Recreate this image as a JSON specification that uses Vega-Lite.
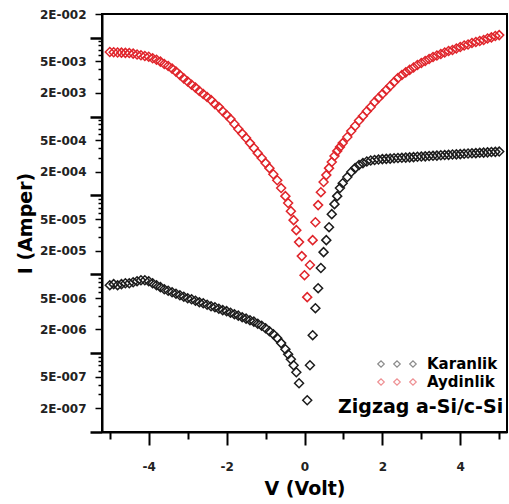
{
 "$schema": "https://vega.github.io/schema/vega-lite/v6.json",
 "width": 405, "height": 418,
 "autosize": {"type": "none"},
 "padding": {"left": 102, "top": 14, "right": 2, "bottom": 72},
 "background": "white",
 "config": {"view": {"stroke": "black", "strokeWidth": 2}, "font": "DejaVu Sans"},
 "data": {"values": [
  {"series":"Aydinlik","V":-5.0,"I":6.59e-3},{"series":"Aydinlik","V":-4.9,"I":6.55e-3},{"series":"Aydinlik","V":-4.8,"I":6.51e-3},{"series":"Aydinlik","V":-4.7,"I":6.47e-3},{"series":"Aydinlik","V":-4.6,"I":6.43e-3},{"series":"Aydinlik","V":-4.5,"I":6.40e-3},{"series":"Aydinlik","V":-4.4,"I":6.29e-3},{"series":"Aydinlik","V":-4.3,"I":6.14e-3},{"series":"Aydinlik","V":-4.2,"I":6.00e-3},{"series":"Aydinlik","V":-4.1,"I":5.86e-3},
  {"series":"Aydinlik","V":-4.0,"I":5.73e-3},{"series":"Aydinlik","V":-3.9,"I":5.50e-3},{"series":"Aydinlik","V":-3.8,"I":5.25e-3},{"series":"Aydinlik","V":-3.7,"I":4.98e-3},{"series":"Aydinlik","V":-3.6,"I":4.64e-3},{"series":"Aydinlik","V":-3.5,"I":4.38e-3},{"series":"Aydinlik","V":-3.4,"I":4.06e-3},{"series":"Aydinlik","V":-3.3,"I":3.72e-3},{"series":"Aydinlik","V":-3.2,"I":3.36e-3},{"series":"Aydinlik","V":-3.1,"I":3.05e-3},
  {"series":"Aydinlik","V":-3.0,"I":2.79e-3},{"series":"Aydinlik","V":-2.9,"I":2.54e-3},{"series":"Aydinlik","V":-2.8,"I":2.33e-3},{"series":"Aydinlik","V":-2.7,"I":2.11e-3},{"series":"Aydinlik","V":-2.6,"I":1.93e-3},{"series":"Aydinlik","V":-2.5,"I":1.77e-3},{"series":"Aydinlik","V":-2.4,"I":1.62e-3},{"series":"Aydinlik","V":-2.3,"I":1.44e-3},{"series":"Aydinlik","V":-2.2,"I":1.32e-3},{"series":"Aydinlik","V":-2.1,"I":1.17e-3},
  {"series":"Aydinlik","V":-2.0,"I":1.05e-3},{"series":"Aydinlik","V":-1.9,"I":9.30e-4},{"series":"Aydinlik","V":-1.8,"I":8.04e-4},{"series":"Aydinlik","V":-1.7,"I":6.95e-4},{"series":"Aydinlik","V":-1.6,"I":6.09e-4},{"series":"Aydinlik","V":-1.5,"I":5.34e-4},{"series":"Aydinlik","V":-1.4,"I":4.61e-4},{"series":"Aydinlik","V":-1.3,"I":3.99e-4},{"series":"Aydinlik","V":-1.2,"I":3.44e-4},{"series":"Aydinlik","V":-1.1,"I":2.98e-4},
  {"series":"Aydinlik","V":-1.0,"I":2.57e-4},{"series":"Aydinlik","V":-0.9,"I":2.22e-4},{"series":"Aydinlik","V":-0.8,"I":1.86e-4},{"series":"Aydinlik","V":-0.7,"I":1.56e-4},{"series":"Aydinlik","V":-0.6,"I":1.24e-4},
  {"series":"Aydinlik","V":-0.49,"I":9.80e-5},{"series":"Aydinlik","V":-0.42,"I":8.00e-5},{"series":"Aydinlik","V":-0.35,"I":6.32e-5},{"series":"Aydinlik","V":-0.28,"I":4.86e-5},{"series":"Aydinlik","V":-0.21,"I":3.63e-5},{"series":"Aydinlik","V":-0.14,"I":2.56e-5},{"series":"Aydinlik","V":-0.07,"I":1.70e-5},{"series":"Aydinlik","V":0.0,"I":9.75e-6},{"series":"Aydinlik","V":0.07,"I":5.13e-6},
  {"series":"Aydinlik","V":0.14,"I":1.31e-5},{"series":"Aydinlik","V":0.21,"I":2.71e-5},{"series":"Aydinlik","V":0.28,"I":4.58e-5},{"series":"Aydinlik","V":0.35,"I":7.54e-5},{"series":"Aydinlik","V":0.42,"I":1.10e-4},{"series":"Aydinlik","V":0.49,"I":1.48e-4},{"series":"Aydinlik","V":0.56,"I":1.81e-4},{"series":"Aydinlik","V":0.63,"I":2.22e-4},{"series":"Aydinlik","V":0.70,"I":2.65e-4},{"series":"Aydinlik","V":0.77,"I":3.16e-4},{"series":"Aydinlik","V":0.84,"I":3.65e-4},{"series":"Aydinlik","V":0.91,"I":4.10e-4},{"series":"Aydinlik","V":0.98,"I":4.61e-4},
  {"series":"Aydinlik","V":1.1,"I":5.50e-4},{"series":"Aydinlik","V":1.2,"I":6.55e-4},{"series":"Aydinlik","V":1.3,"I":7.59e-4},{"series":"Aydinlik","V":1.4,"I":8.90e-4},{"series":"Aydinlik","V":1.5,"I":1.02e-3},{"series":"Aydinlik","V":1.6,"I":1.17e-3},{"series":"Aydinlik","V":1.7,"I":1.32e-3},{"series":"Aydinlik","V":1.8,"I":1.53e-3},{"series":"Aydinlik","V":1.9,"I":1.72e-3},{"series":"Aydinlik","V":2.0,"I":1.93e-3},
  {"series":"Aydinlik","V":2.1,"I":2.17e-3},{"series":"Aydinlik","V":2.2,"I":2.44e-3},{"series":"Aydinlik","V":2.3,"I":2.74e-3},{"series":"Aydinlik","V":2.4,"I":3.08e-3},{"series":"Aydinlik","V":2.5,"I":3.36e-3},{"series":"Aydinlik","V":2.6,"I":3.64e-3},{"series":"Aydinlik","V":2.7,"I":3.91e-3},{"series":"Aydinlik","V":2.8,"I":4.19e-3},{"series":"Aydinlik","V":2.9,"I":4.51e-3},{"series":"Aydinlik","V":3.0,"I":4.78e-3},
  {"series":"Aydinlik","V":3.1,"I":5.06e-3},{"series":"Aydinlik","V":3.2,"I":5.37e-3},{"series":"Aydinlik","V":3.3,"I":5.69e-3},{"series":"Aydinlik","V":3.4,"I":5.95e-3},{"series":"Aydinlik","V":3.5,"I":6.21e-3},{"series":"Aydinlik","V":3.6,"I":6.49e-3},{"series":"Aydinlik","V":3.7,"I":6.78e-3},{"series":"Aydinlik","V":3.8,"I":6.98e-3},{"series":"Aydinlik","V":3.9,"I":7.30e-3},{"series":"Aydinlik","V":4.0,"I":7.62e-3},
  {"series":"Aydinlik","V":4.1,"I":7.96e-3},{"series":"Aydinlik","V":4.2,"I":8.20e-3},{"series":"Aydinlik","V":4.3,"I":8.57e-3},{"series":"Aydinlik","V":4.4,"I":8.82e-3},{"series":"Aydinlik","V":4.5,"I":9.09e-3},{"series":"Aydinlik","V":4.6,"I":9.35e-3},{"series":"Aydinlik","V":4.7,"I":9.77e-3},{"series":"Aydinlik","V":4.8,"I":1.01e-2},{"series":"Aydinlik","V":4.9,"I":1.05e-2},{"series":"Aydinlik","V":5.0,"I":1.08e-2},

  {"series":"Karanlik","V":-5.0,"I":7.28e-6},{"series":"Karanlik","V":-4.9,"I":7.50e-6},{"series":"Karanlik","V":-4.8,"I":7.28e-6},{"series":"Karanlik","V":-4.7,"I":7.50e-6},{"series":"Karanlik","V":-4.6,"I":7.71e-6},{"series":"Karanlik","V":-4.5,"I":7.71e-6},{"series":"Karanlik","V":-4.4,"I":7.94e-6},{"series":"Karanlik","V":-4.3,"I":8.18e-6},{"series":"Karanlik","V":-4.2,"I":8.42e-6},{"series":"Karanlik","V":-4.1,"I":8.42e-6},
  {"series":"Karanlik","V":-4.0,"I":8.18e-6},{"series":"Karanlik","V":-3.9,"I":7.71e-6},{"series":"Karanlik","V":-3.8,"I":7.28e-6},{"series":"Karanlik","V":-3.7,"I":6.87e-6},{"series":"Karanlik","V":-3.6,"I":6.47e-6},{"series":"Karanlik","V":-3.5,"I":6.19e-6},{"series":"Karanlik","V":-3.4,"I":5.93e-6},{"series":"Karanlik","V":-3.3,"I":5.68e-6},{"series":"Karanlik","V":-3.2,"I":5.43e-6},{"series":"Karanlik","V":-3.1,"I":5.20e-6},
  {"series":"Karanlik","V":-3.0,"I":4.98e-6},{"series":"Karanlik","V":-2.9,"I":4.83e-6},{"series":"Karanlik","V":-2.8,"I":4.62e-6},{"series":"Karanlik","V":-2.7,"I":4.43e-6},{"series":"Karanlik","V":-2.6,"I":4.30e-6},{"series":"Karanlik","V":-2.5,"I":4.11e-6},{"series":"Karanlik","V":-2.4,"I":3.94e-6},{"series":"Karanlik","V":-2.3,"I":3.83e-6},{"series":"Karanlik","V":-2.2,"I":3.66e-6},{"series":"Karanlik","V":-2.1,"I":3.51e-6},
  {"series":"Karanlik","V":-2.0,"I":3.41e-6},{"series":"Karanlik","V":-1.9,"I":3.26e-6},{"series":"Karanlik","V":-1.8,"I":3.12e-6},{"series":"Karanlik","V":-1.7,"I":2.99e-6},{"series":"Karanlik","V":-1.6,"I":2.86e-6},{"series":"Karanlik","V":-1.5,"I":2.74e-6},{"series":"Karanlik","V":-1.4,"I":2.62e-6},{"series":"Karanlik","V":-1.3,"I":2.51e-6},{"series":"Karanlik","V":-1.2,"I":2.36e-6},{"series":"Karanlik","V":-1.1,"I":2.23e-6},
  {"series":"Karanlik","V":-1.0,"I":2.07e-6},{"series":"Karanlik","V":-0.9,"I":1.90e-6},{"series":"Karanlik","V":-0.8,"I":1.74e-6},{"series":"Karanlik","V":-0.7,"I":1.55e-6},{"series":"Karanlik","V":-0.6,"I":1.34e-6},
  {"series":"Karanlik","V":-0.49,"I":1.12e-6},{"series":"Karanlik","V":-0.42,"I":9.68e-7},{"series":"Karanlik","V":-0.35,"I":8.37e-7},{"series":"Karanlik","V":-0.28,"I":7.03e-7},{"series":"Karanlik","V":-0.21,"I":5.73e-7},{"series":"Karanlik","V":-0.14,"I":4.15e-7},{"series":"Karanlik","V":0.07,"I":2.53e-7},
  {"series":"Karanlik","V":0.14,"I":7.03e-7},{"series":"Karanlik","V":0.21,"I":1.69e-6},{"series":"Karanlik","V":0.28,"I":3.72e-6},{"series":"Karanlik","V":0.35,"I":6.67e-6},{"series":"Karanlik","V":0.42,"I":1.20e-5},{"series":"Karanlik","V":0.49,"I":1.91e-5},{"series":"Karanlik","V":0.56,"I":2.71e-5},{"series":"Karanlik","V":0.63,"I":3.96e-5},{"series":"Karanlik","V":0.70,"I":5.79e-5},{"series":"Karanlik","V":0.77,"I":7.76e-5},{"series":"Karanlik","V":0.84,"I":9.80e-5},{"series":"Karanlik","V":0.91,"I":1.24e-4},{"series":"Karanlik","V":0.98,"I":1.43e-4},
  {"series":"Karanlik","V":1.1,"I":1.71e-4},{"series":"Karanlik","V":1.2,"I":1.98e-4},{"series":"Karanlik","V":1.3,"I":2.22e-4},{"series":"Karanlik","V":1.4,"I":2.43e-4},{"series":"Karanlik","V":1.5,"I":2.57e-4},{"series":"Karanlik","V":1.6,"I":2.69e-4},{"series":"Karanlik","V":1.7,"I":2.77e-4},{"series":"Karanlik","V":1.8,"I":2.81e-4},{"series":"Karanlik","V":1.9,"I":2.85e-4},{"series":"Karanlik","V":2.0,"I":2.89e-4},
  {"series":"Karanlik","V":2.1,"I":2.91e-4},{"series":"Karanlik","V":2.2,"I":2.93e-4},{"series":"Karanlik","V":2.3,"I":2.96e-4},{"series":"Karanlik","V":2.4,"I":2.98e-4},{"series":"Karanlik","V":2.5,"I":3.00e-4},{"series":"Karanlik","V":2.6,"I":3.02e-4},{"series":"Karanlik","V":2.7,"I":3.04e-4},{"series":"Karanlik","V":2.8,"I":3.06e-4},{"series":"Karanlik","V":2.9,"I":3.09e-4},{"series":"Karanlik","V":3.0,"I":3.11e-4},
  {"series":"Karanlik","V":3.1,"I":3.13e-4},{"series":"Karanlik","V":3.2,"I":3.16e-4},{"series":"Karanlik","V":3.3,"I":3.18e-4},{"series":"Karanlik","V":3.4,"I":3.20e-4},{"series":"Karanlik","V":3.5,"I":3.23e-4},{"series":"Karanlik","V":3.6,"I":3.25e-4},{"series":"Karanlik","V":3.7,"I":3.27e-4},{"series":"Karanlik","V":3.8,"I":3.30e-4},{"series":"Karanlik","V":3.9,"I":3.32e-4},{"series":"Karanlik","V":4.0,"I":3.34e-4},
  {"series":"Karanlik","V":4.1,"I":3.37e-4},{"series":"Karanlik","V":4.2,"I":3.40e-4},{"series":"Karanlik","V":4.3,"I":3.42e-4},{"series":"Karanlik","V":4.4,"I":3.44e-4},{"series":"Karanlik","V":4.5,"I":3.47e-4},{"series":"Karanlik","V":4.6,"I":3.49e-4},{"series":"Karanlik","V":4.7,"I":3.52e-4},{"series":"Karanlik","V":4.8,"I":3.55e-4},{"series":"Karanlik","V":4.9,"I":3.57e-4},{"series":"Karanlik","V":5.0,"I":3.60e-4}
 ]},
 "mark": {"type": "point", "shape": "diamond", "filled": false, "strokeWidth": 1.5, "size": 80, "opacity": 1},
 "encoding": {
  "x": {"field": "V", "type": "quantitative",
   "scale": {"domain": [-5.2, 5.2], "nice": false, "zero": false},
   "axis": {"title": "V (Volt)", "values": [-5,-4,-3,-2,-1,0,1,2,3,4,5],
    "labelExpr": "datum.value % 2 == 0 ? '' + datum.value : ''",
    "grid": false, "domainColor": "black", "domainWidth": 2,
    "tickColor": "black", "tickWidth": 2,
    "tickSize": {"condition": {"test": "datum.value % 2 == 0", "value": 13}, "value": 7},
    "labelPadding": 16, "labelFlush": false, "labelOverlap": false,
    "labelFont": "DejaVu Sans", "labelFontWeight": "bold", "labelFontSize": 12, "labelColor": "#222222",
    "titleFont": "DejaVu Sans", "titleFontWeight": "bold", "titleFontSize": 19, "titleColor": "black", "titlePadding": 7}},
  "y": {"field": "I", "type": "quantitative",
   "scale": {"type": "log", "domain": [1e-7, 2e-2], "nice": false},
   "axis": {"title": "I (Amper)",
    "values": [1e-7,2e-7,3e-7,4e-7,5e-7,6e-7,7e-7,8e-7,9e-7,1e-6,2e-6,3e-6,4e-6,5e-6,6e-6,7e-6,8e-6,9e-6,1e-5,2e-5,3e-5,4e-5,5e-5,6e-5,7e-5,8e-5,9e-5,1e-4,2e-4,3e-4,4e-4,5e-4,6e-4,7e-4,8e-4,9e-4,1e-3,2e-3,3e-3,4e-3,5e-3,6e-3,7e-3,8e-3,9e-3,1e-2,2e-2],
    "labelExpr": "(slice(format(datum.value,'.0e'),0,1) == '2' || slice(format(datum.value,'.0e'),0,1) == '5') ? replace(format(datum.value,'.0e'),'e-','E-00') : ''",
    "grid": false, "domainColor": "black", "domainWidth": 2,
    "tickColor": "black",
    "tickWidth": {"condition": {"test": "slice(format(datum.value,'.0e'),0,1) == '1'", "value": 2.5}, "value": 1.5},
    "tickSize": {"condition": [{"test": "slice(format(datum.value,'.0e'),0,1) == '1'", "value": 12}, {"test": "slice(format(datum.value,'.0e'),0,1) == '2' || slice(format(datum.value,'.0e'),0,1) == '5'", "value": 7}], "value": 4},
    "labelPadding": 9, "labelFlush": false, "labelOverlap": false,
    "labelFont": "DejaVu Sans", "labelFontWeight": "bold", "labelFontSize": 12, "labelColor": "#222222",
    "titleFont": "DejaVu Sans", "titleFontWeight": "bold", "titleFontSize": 19, "titleColor": "black", "titlePadding": 4}},
  "color": {"field": "series", "type": "nominal",
   "scale": {"domain": ["Karanlik", "Aydinlik"], "range": ["#1c1c1c", "#e0252b"]},
   "legend": {"orient": "none", "legendX": 236, "legendY": 342, "padding": 0,
    "title": "Zigzag a-Si/c-Si", "titleOrient": "bottom", "titleAnchor": "start",
    "titleFont": "DejaVu Sans", "titleFontWeight": "bold", "titleFontSize": 19, "titleColor": "black", "titlePadding": 8, "titleLimit": 400,
    "symbolType": "M-2.65,0L-2.2,-0.45L-1.75,0L-2.2,0.45Z M-0.45,0L0,-0.45L0.45,0L0,0.45Z M1.75,0L2.2,-0.45L2.65,0L2.2,0.45Z",
    "symbolSize": 211, "symbolStrokeWidth": 1.2, "symbolOpacity": 0.5, "symbolFillColor": "transparent",
    "symbolOffset": 51, "labelOffset": 22, "rowPadding": 2,
    "labelFont": "DejaVu Sans", "labelFontWeight": "bold", "labelFontSize": 15,
    "encode": {"labels": {"update": {"fill": {"signal": "datum.label == 'Aydinlik' ? '#d9404a' : '#111111'"}}}}}}
 }
}
